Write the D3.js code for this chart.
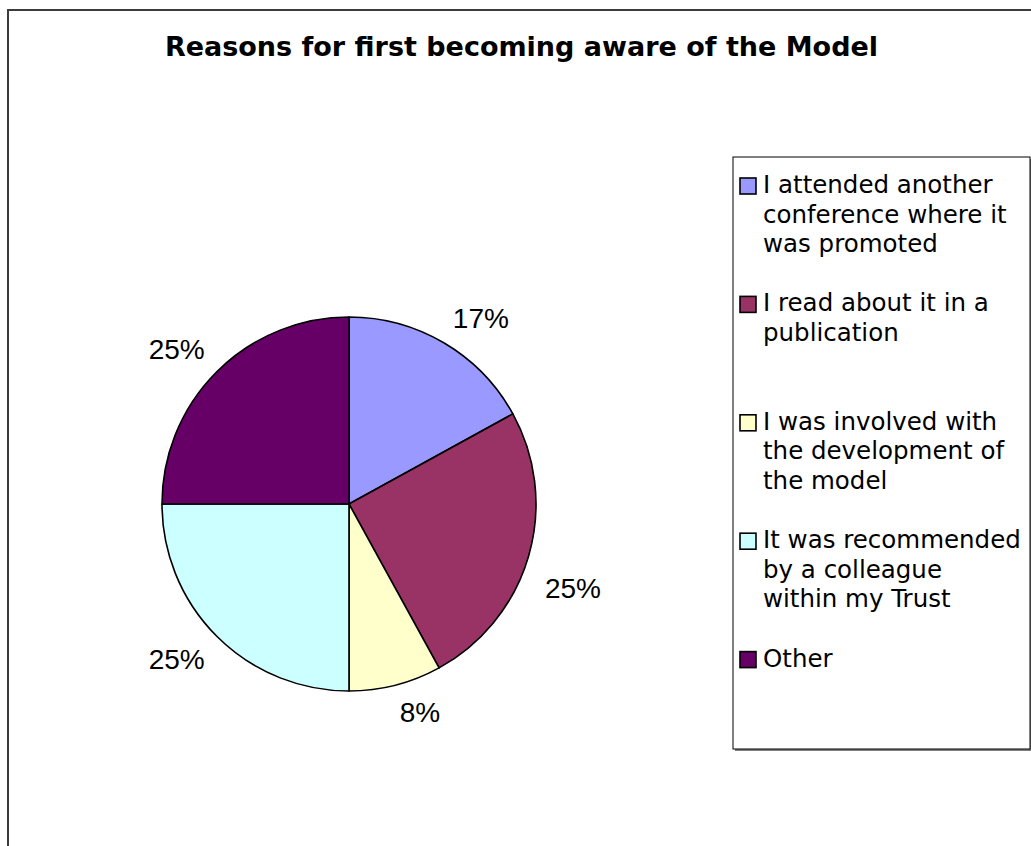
<!DOCTYPE html>
<html>
<head>
<meta charset="utf-8">
<script src="https://cdn.jsdelivr.net/npm/d3@7"></script>
<style>
  html, body { margin: 0; padding: 0; background: #ffffff; }
  svg { display: block; }
</style>
</head>
<body>
<svg id="chart" width="1031" height="846"></svg>
<script>
// Survey responses: how respondents first heard about the Model
const title = "Reasons for first becoming aware of the Model";
const categories = [
  "I attended another conference where it was promoted",
  "I read about it in a publication",
  "I was involved with the development of the model",
  "It was recommended by a colleague within my Trust",
  "Other"
];
// Legend text as wrapped lines
const legendLines = [
  ["I attended another", "conference where it", "was promoted"],
  ["I read about it in a", "publication"],
  ["I was involved with", "the development of", "the model"],
  ["It was recommended", "by a colleague", "within my Trust"],
  ["Other"]
];
const percentages = [17, 25, 8, 25, 25];
const colors = ["#9999FF", "#993366", "#FFFFCC", "#CCFFFF", "#660066"];

const svg = d3.select("#chart");
const W = 1031, H = 846;

// Chart frame (runs past the right and bottom edges of the view)
svg.append("rect")
  .attr("x", 8).attr("y", 10)
  .attr("width", W + 20).attr("height", H + 20)
  .attr("fill", "#ffffff")
  .attr("stroke", "#3c3c3c")
  .attr("stroke-width", 2);

// Title
svg.append("text")
  .attr("x", 521.5).attr("y", 56)
  .attr("text-anchor", "middle")
  .attr("font-family", "DejaVu Sans, Verdana, sans-serif")
  .attr("font-weight", "bold")
  .attr("font-size", 27)
  .attr("fill", "#000")
  .text(title);

// Pie
const cx = 349, cy = 504, R = 187;
const data = categories.map((c, i) => ({ name: c, value: percentages[i], color: colors[i] }));
const pie = d3.pie().sort(null).value(d => d.value).startAngle(0).endAngle(2 * Math.PI);
const arcs = pie(data);
const arc = d3.arc().innerRadius(0).outerRadius(R);

const g = svg.append("g").attr("transform", `translate(${cx},${cy})`);
g.selectAll("path.slice")
  .data(arcs)
  .join("path")
  .attr("class", "slice")
  .attr("d", arc)
  .attr("fill", d => d.data.color)
  .attr("stroke", "#000")
  .attr("stroke-width", 1.6)
  .attr("stroke-linejoin", "round");

// Percentage labels: the label box's inner corner sits just outside the rim,
// along each slice's bisector
const labelR = R + 17;
const labelSize = 28;
g.selectAll("text.pct")
  .data(arcs)
  .join("text")
  .attr("class", "pct")
  .attr("font-family", "Liberation Sans, Arial, sans-serif")
  .attr("font-size", labelSize)
  .attr("fill", "#000")
  .text(d => d.data.value + "%")
  .each(function (d) {
    const mid = (d.startAngle + d.endAngle) / 2;
    const sx = Math.sin(mid), sy = -Math.cos(mid);
    const w = this.getComputedTextLength();
    const h = labelSize * 0.75;
    const ax = labelR * sx, ay = labelR * sy;
    // near-horizontal bisectors push the box further along the vertical
    const vy = Math.abs(sy) < 0.5 ? h * 1.3 : h / 2;
    const bx = ax + (sx >= 0 ? w / 2 : -w / 2);
    const by = ay + (sy >= 0 ? vy : -h / 2);
    d3.select(this)
      .attr("x", bx)
      .attr("y", by + h / 2 - 0.5)
      .attr("text-anchor", "middle");
  });

// Legend
const lgX = 733, lgY = 157, lgW = 297, lgH = 592;
svg.append("rect")
  .attr("x", lgX + 2).attr("y", lgY + 2)
  .attr("width", lgW).attr("height", lgH)
  .attr("fill", "#808080");
svg.append("rect")
  .attr("x", lgX).attr("y", lgY)
  .attr("width", lgW).attr("height", lgH)
  .attr("fill", "#ffffff")
  .attr("stroke", "#000")
  .attr("stroke-width", 1);

const slot = d3.scaleBand().domain(d3.range(categories.length)).range([lgY, lgY + lgH]);
const lineH = 29.5;
const legendSize = 24.5;
const items = svg.append("g").selectAll("g.item")
  .data(data)
  .join("g")
  .attr("class", "item")
  .attr("transform", (d, i) => `translate(${lgX},${slot(i) + 36})`);

items.append("rect")
  .attr("x", 7).attr("y", -15)
  .attr("width", 16).attr("height", 16)
  .attr("fill", d => d.color)
  .attr("stroke", "#000")
  .attr("stroke-width", 1.6);

items.append("text")
  .attr("font-family", "DejaVu Sans, Verdana, sans-serif")
  .attr("font-size", legendSize)
  .attr("fill", "#000")
  .selectAll("tspan")
  .data((d, i) => legendLines[i])
  .join("tspan")
  .attr("x", 30)
  .attr("y", (l, j) => j * lineH)
  .text(l => l);
</script>
</body>
</html>
